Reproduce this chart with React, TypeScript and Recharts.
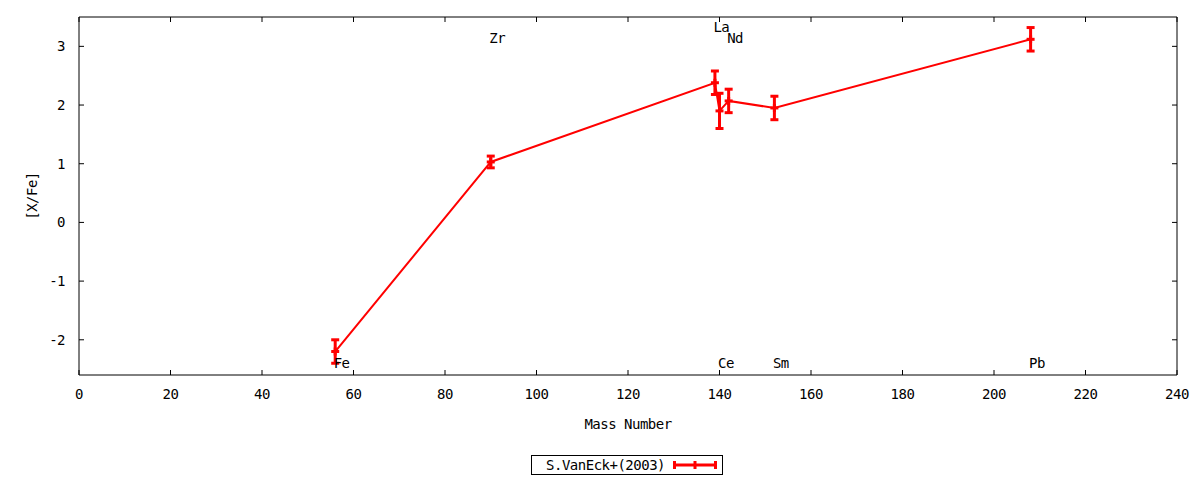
import React from 'react';
import { ComposedChart, Line, Scatter, XAxis, YAxis, ErrorBar, Legend } from 'recharts';

// S.VanEck+(2003) abundances against mass number
const elements = ['Fe', 'Zr', 'La', 'Ce', 'Nd', 'Sm', 'Pb'];
const massNumbers = [56, 90, 139, 140, 142, 152, 208];
const abundances = [-2.2, 1.03, 2.38, 1.9, 2.07, 1.95, 3.12];
const errors = [0.2, 0.1, 0.2, 0.3, 0.2, 0.2, 0.2];
// where the element names are written (gnuplot labels)
const labelHeights = [-2.4, 3.15, 3.33, -2.4, 3.15, -2.4, -2.4];

const xTicks = [0, 20, 40, 60, 80, 100, 120, 140, 160, 180, 200, 220, 240];
const yTicks = [-2, -1, 0, 1, 2, 3];

const FONT = '"DejaVu Sans Mono", monospace';
const RED = '#ff0000';
const txt = { fontFamily: FONT, fontSize: 14, letterSpacing: -0.5, fill: '#000' };

const points = massNumbers.map((m, i) => ({ mass: m, value: abundances[i], err: errors[i] }));
const labels = massNumbers.map((m, i) => ({ mass: m, value: labelHeights[i], name: elements[i] }));

const BottomTick = (p: any) => (
  <g>
    <line x1={p.x} y1={p.y} x2={p.x} y2={p.y - 5} stroke="#000" />
    <text x={p.x} y={p.y + 19} textAnchor="middle" dominantBaseline="central" {...txt}>
      {p.payload.value}
    </text>
  </g>
);

const TopTick = (p: any) => <line x1={p.x} y1={p.y} x2={p.x} y2={p.y + 5} stroke="#000" />;

const LeftTick = (p: any) => (
  <g>
    <line x1={p.x} y1={p.y} x2={p.x + 5} y2={p.y} stroke="#000" />
    <text x={p.x - 14} y={p.y} textAnchor="end" dominantBaseline="central" {...txt}>
      {p.payload.value}
    </text>
  </g>
);

const RightTick = (p: any) => <line x1={p.x} y1={p.y} x2={p.x - 5} y2={p.y} stroke="#000" />;

const PlusDot = (p: any) => {
  if (p.cx == null || p.cy == null) return null;
  return (
    <g key={`dot-${p.index}`}>
      <line x1={p.cx - 4} y1={p.cy} x2={p.cx + 4} y2={p.cy} stroke={RED} strokeWidth={3} />
      <line x1={p.cx} y1={p.cy - 4} x2={p.cx} y2={p.cy + 4} stroke={RED} strokeWidth={3} />
    </g>
  );
};

const ElementLabel = (p: any) => (
  <text x={p.cx - 1.5} y={p.cy} textAnchor="start" dominantBaseline="central" {...txt}>
    {p.payload.name}
  </text>
);

const XTitle = (p: any) => {
  const vb = p.viewBox;
  return (
    <text x={vb.x + vb.width / 2} y={vb.y + 49} textAnchor="middle" dominantBaseline="central" {...txt}>
      Mass Number
    </text>
  );
};

const YTitle = (p: any) => {
  const vb = p.viewBox;
  const cx = vb.x + 13;
  const cy = vb.y + vb.height / 2;
  return (
    <text x={cx} y={cy} transform={`rotate(-90 ${cx} ${cy})`} textAnchor="middle" dominantBaseline="central" {...txt}>
      [X/Fe]
    </text>
  );
};

const LegendBox = () => (
  <svg width={192} height={20} style={{ display: 'block' }}>
    <rect x={0.5} y={0.5} width={191} height={19} fill="#fff" stroke="#000" />
    <text x={134} y={10} textAnchor="end" dominantBaseline="central" {...txt}>
      S.VanEck+(2003)
    </text>
    <line x1={143} y1={10} x2={185} y2={10} stroke={RED} strokeWidth={3} />
    <line x1={143.5} y1={6} x2={143.5} y2={14} stroke={RED} strokeWidth={3} />
    <line x1={184.5} y1={6} x2={184.5} y2={14} stroke={RED} strokeWidth={3} />
    <line x1={164} y1={6} x2={164} y2={14} stroke={RED} strokeWidth={3} />
  </svg>
);

export default function App() {
  return (
    <div style={{ position: 'absolute', left: 0, top: 0, background: '#fff' }}>
      <ComposedChart width={1200} height={480} data={points} margin={{ top: 16, right: 22, left: 19, bottom: 75 }}>
        <XAxis
          xAxisId="main"
          dataKey="mass"
          type="number"
          domain={[0, 240]}
          ticks={xTicks}
          interval={0}
          height={30}
          tickSize={0}
          tickMargin={0}
          tickLine={false}
          tick={<BottomTick />}
          axisLine={{ stroke: '#000' }}
          label={<XTitle />}
        />
        <XAxis
          xAxisId="top"
          dataKey="mass"
          orientation="top"
          type="number"
          domain={[0, 240]}
          ticks={xTicks}
          interval={0}
          height={1}
          tickSize={0}
          tickMargin={0}
          tickLine={false}
          tick={<TopTick />}
          axisLine={{ stroke: '#000' }}
        />
        <YAxis
          yAxisId="main"
          dataKey="value"
          type="number"
          domain={[-2.6, 3.5]}
          allowDataOverflow
          ticks={yTicks}
          interval={0}
          width={60}
          tickSize={0}
          tickMargin={0}
          tickLine={false}
          tick={<LeftTick />}
          axisLine={{ stroke: '#000' }}
          label={<YTitle />}
        />
        <YAxis
          yAxisId="right"
          dataKey="value"
          orientation="right"
          type="number"
          domain={[-2.6, 3.5]}
          allowDataOverflow
          ticks={yTicks}
          interval={0}
          width={1}
          tickSize={0}
          tickMargin={0}
          tickLine={false}
          tick={<RightTick />}
          axisLine={{ stroke: '#000' }}
        />
        {/* invisible series so the mirrored frame axes have something bound */}
        <Line
          xAxisId="top"
          yAxisId="right"
          dataKey="value"
          stroke="none"
          dot={false}
          activeDot={false}
          isAnimationActive={false}
          legendType="none"
        />
        <Line
          xAxisId="main"
          yAxisId="main"
          type="linear"
          dataKey="value"
          stroke={RED}
          strokeWidth={2}
          dot={PlusDot}
          activeDot={false}
          isAnimationActive={false}
          legendType="none"
        >
          <ErrorBar dataKey="err" direction="y" width={4} stroke={RED} strokeWidth={3} isAnimationActive={false} />
        </Line>
        <Scatter
          xAxisId="main"
          yAxisId="main"
          data={labels}
          dataKey="value"
          shape={<ElementLabel />}
          isAnimationActive={false}
          legendType="none"
        />
        <Legend
          layout="horizontal"
          verticalAlign="middle"
          align="center"
          content={<LegendBox />}
          wrapperStyle={{ position: 'absolute', left: 531, top: 455, width: 192, height: 20 }}
        />
      </ComposedChart>
    </div>
  );
}
